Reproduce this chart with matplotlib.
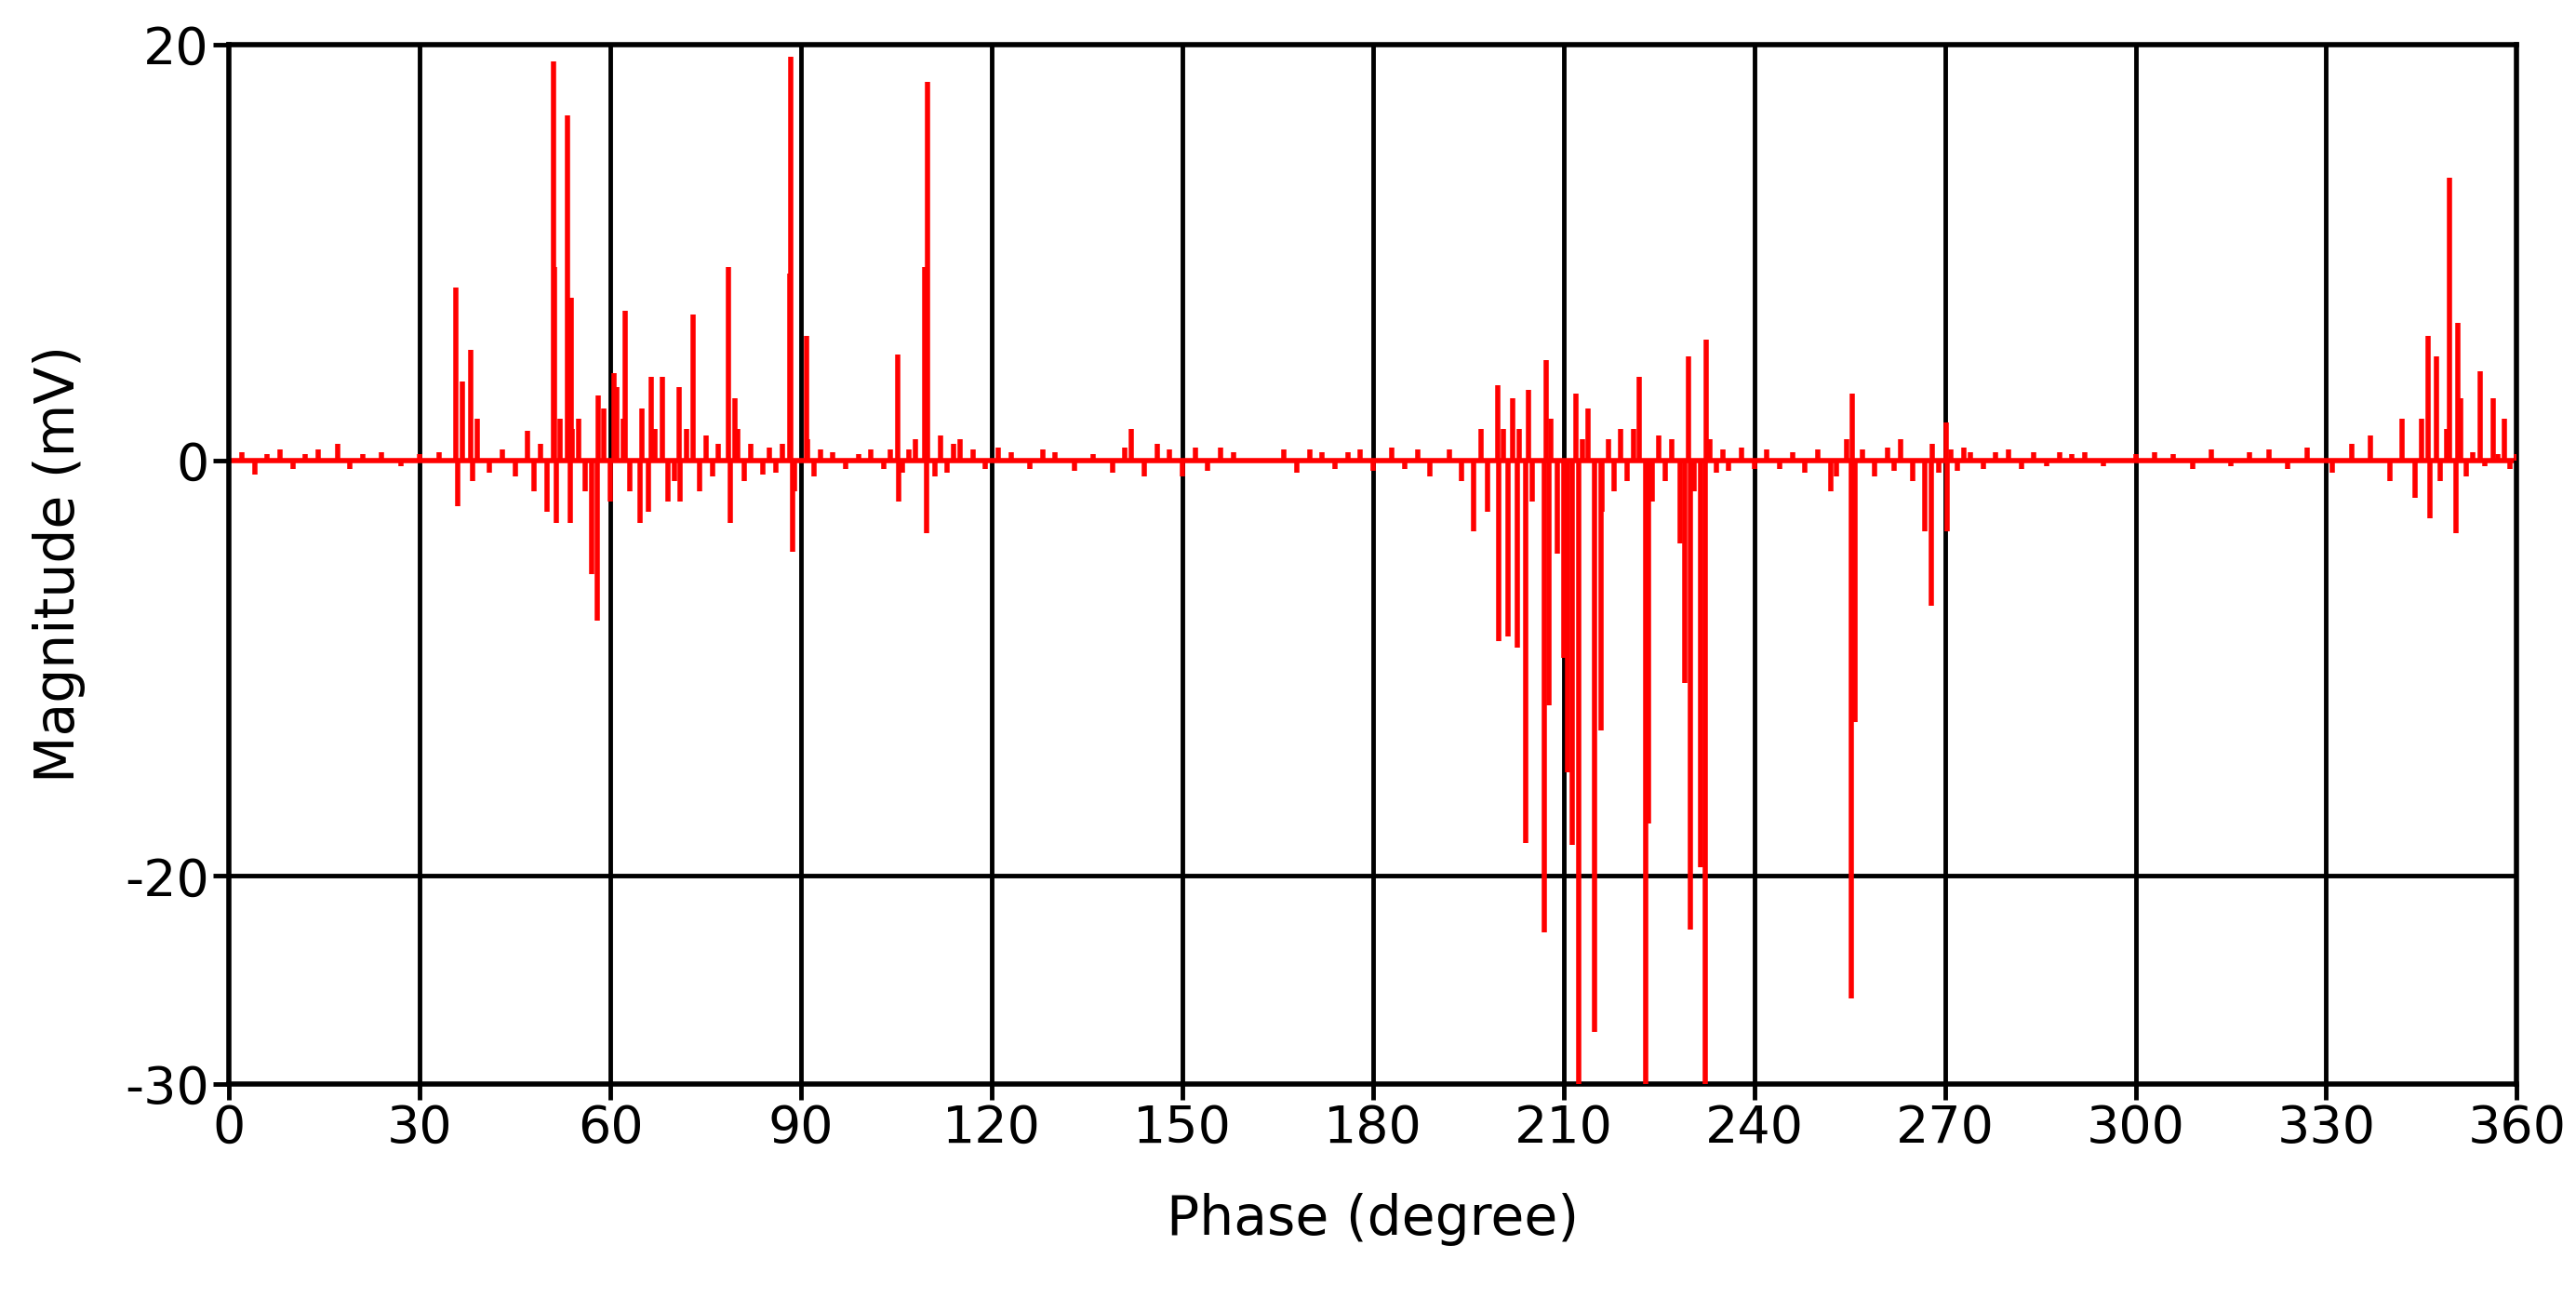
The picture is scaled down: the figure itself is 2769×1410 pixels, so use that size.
import matplotlib
matplotlib.use("Agg")
import matplotlib.pyplot as plt

# Large spikes (phase deg, magnitude mV)
spike_phase = [35.7,35.9,36.7,38.0,38.3,39.0,51.0,51.5,51.2,53.3,53.8,53.6,55.0,57.0,57.9,58.0,
               60.5,61.0,62.3,64.6,66.4,68.2,70.8,71.0,73.0,78.6,78.8,79.6,88.2,88.6,88.3,90.8,
               105.2,105.4,109.4,109.9,109.7,115.0,
               195.8,199.6,199.8,201.2,202.0,202.7,204.0,204.5,206.9,207.2,207.7,209.0,210.0,210.6,
               211.4,211.9,212.4,213.9,214.9,215.9,221.9,222.9,223.4,228.3,229.6,229.1,229.9,231.5,232.3,232.4,
               254.5,255.3,255.8,255.4,266.9,267.9,270.2,270.3,
               346.0,346.4,347.3,349.4,350.4,350.8,351.1,354.2,356.3,358.1]
spike_value = [8.3,-2.2,3.8,5.3,-1.0,2.0,19.2,-3.0,9.3,16.6,7.8,-3.0,2.0,-5.5,-7.7,3.1,
               4.2,3.5,7.2,-3.0,4.0,4.0,3.5,-2.0,7.0,9.3,-3.0,3.0,9.0,-4.4,19.4,6.0,
               5.1,-2.0,9.3,18.2,-3.5,1.0,
               -3.4,3.6,-8.7,-8.5,3.0,-9.0,-18.4,3.4,-22.7,4.8,-11.8,-4.5,-9.5,-15.0,
               -18.5,3.2,-30.0,2.5,-27.5,-13.0,4.0,-30.0,-17.5,-4.0,5.0,-10.7,-22.6,-19.6,-30.0,5.8,
               1.0,-25.9,-12.6,3.2,-3.4,-7.0,1.8,-3.4,
               6.0,-2.8,5.0,13.6,-3.5,6.6,3.0,4.3,3.0,2.0]

# Small background noise (phase deg, magnitude mV)
noise_phase = [2,4,6,8,10,12,14,17,19,21,24,27,30,33,41,43,45,47,48,49,50,52,54,56,59,60,62,63,65,66,67,69,70,72,74,75,
               76,77,80,81,82,84,85,86,87,89,91,92,93,95,97,99,101,103,104,106,107,108,111,112,113,114,117,119,121,123,
               126,128,130,133,136,139,141,142,144,146,148,150,152,154,156,158,166,168,170,172,174,176,178,180,183,185,
               187,189,192,194,197,198,200.5,203,205,208,213,216,217,218,219,220,221,224,225,226,227,230.5,233,234,235,
               236,238,240,242,244,246,248,250,252,253,257,259,261,262,263,265,268,269,271,272,273,274,276,278,280,282,
               284,286,288,290,292,295,300,303,306,309,312,315,318,321,324,327,331,334,337,340,342,344,345,348,349,352,
               353,355,357,359,360]
noise_value = [0.4,-0.7,0.3,0.5,-0.4,0.3,0.5,0.8,-0.4,0.3,0.4,-0.3,0.3,0.4,-0.6,0.5,-0.8,1.4,-1.5,0.8,-2.5,2.0,1.5,-1.5,2.5,-2.0,2.0,-1.5,2.5,-2.5,1.5,-2.0,-1.0,1.5,-1.5,1.2,
               -0.8,0.8,1.5,-1.0,0.8,-0.7,0.6,-0.6,0.8,-1.5,1.0,-0.8,0.5,0.4,-0.4,0.3,0.5,-0.4,0.5,-0.6,0.5,1.0,-0.8,1.2,-0.6,0.8,0.5,-0.4,0.6,0.4,
               -0.4,0.5,0.4,-0.5,0.3,-0.6,0.6,1.5,-0.8,0.8,0.5,-0.8,0.6,-0.5,0.6,0.4,0.5,-0.6,0.5,0.4,-0.4,0.4,0.5,-0.5,0.6,-0.4,
               0.5,-0.8,0.5,-1.0,1.5,-2.5,1.5,1.5,-2.0,2.0,1.0,-2.5,1.0,-1.5,1.5,-1.0,1.5,-2.0,1.2,-1.0,1.0,-1.5,1.0,
               -0.6,0.5,-0.5,0.6,-0.4,0.5,-0.4,0.4,-0.6,0.5,-1.5,-0.8,0.5,-0.8,0.6,-0.5,1.0,-1.0,0.8,-0.6,0.5,-0.5,0.6,0.4,-0.4,
               0.4,0.5,-0.4,0.4,-0.3,0.4,0.3,0.4,-0.3,0.3,0.4,0.3,-0.4,0.5,-0.3,0.4,0.5,-0.4,0.6,-0.6,0.8,1.2,-1.0,2.0,
               -1.8,2.0,-1.0,1.5,-0.8,0.4,-0.3,0.3,-0.4,0.3]

xticks = list(range(0, 361, 30))
yticks = [20, 0, -20, -30]

plt.rcParams['font.family'] = ['DejaVu Sans']
fig = plt.figure(figsize=(27.69, 14.10), dpi=100)
ax = fig.add_axes([0.089, 0.174, 0.888, 0.792])
ax.set_xlim(0, 360)
ax.set_ylim(-30, 20)
for x in xticks[1:-1]:
    ax.axvline(x, color='black', lw=3.5, zorder=1)
ax.axhline(-20, color='black', lw=3.5, zorder=1)
ax.axhline(0, color='red', lw=4, zorder=2)
ax.vlines(noise_phase, 0, noise_value[:len(noise_phase)], color='red', lw=4, zorder=3)
ax.vlines(spike_phase, 0, spike_value, color='red', lw=4, zorder=3)
ax.set_xticks(xticks)
ax.set_xticklabels([str(v) for v in xticks])
ax.set_yticks(yticks)
ax.set_yticklabels([str(v) for v in yticks])
ax.tick_params(labelsize=40, width=3.5, length=12, direction='out')
for s in ax.spines.values():
    s.set_linewidth(4)
ax.set_xlabel('Phase (degree)', fontsize=42, labelpad=30)
ax.set_ylabel('Magnitude (mV)', fontsize=42, labelpad=30)
fig.savefig('out.png', dpi=100)
